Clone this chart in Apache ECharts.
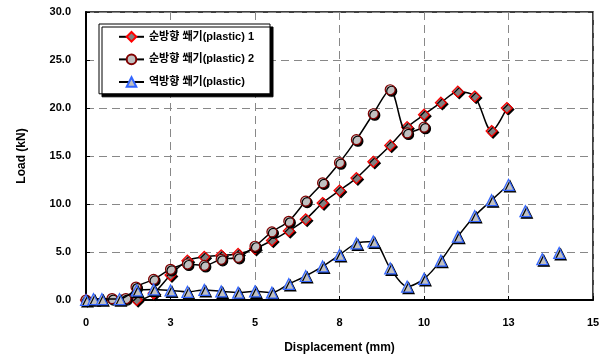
<!DOCTYPE html>
<html><head><meta charset="utf-8">
<script src="https://cdn.jsdelivr.net/npm/echarts@6/dist/echarts.min.js"></script>
<style>html,body{margin:0;padding:0;background:#fff}#c{width:606px;height:361px}</style>
</head><body><div id="c"></div>
<script>
const seriesNames = ['순방향 쐐기(plastic) 1', '순방향 쐐기(plastic) 2', '역방향 쐐기(plastic)'];
const forward1 = [[0,0],[1.5,0],[2.0,0.7],[2.5,2.6],[3.0,4.1],[3.5,4.5],[4.0,4.65],[4.5,4.8],[5.0,5.35],[5.5,6.2],[6.0,7.2],[6.5,8.4],[7.0,10.1],[7.5,11.4],[8.0,12.7],[8.5,14.4],[9.0,16.1],[9.5,18.0],[10.0,19.3],[10.5,20.55],[11.0,21.7],[11.5,21.2],[12.0,17.6],[12.45,20.0]];
const forward2 = [[0,0],[0.77,0.15],[1.18,0.15],[1.48,1.35],[2.0,2.15],[2.5,3.2],[3.0,3.75],[3.5,3.6],[4.0,4.24],[4.5,4.45],[5.0,5.6],[5.5,7.1],[6.0,8.2],[6.5,10.3],[7.0,12.2],[7.5,14.3],[8.0,16.7],[8.5,19.4],[9.0,21.9],[9.5,17.4],[10.0,18.0]];
const reverse = [[0,0],[0.22,0.1],[0.47,0.1],[0.99,0.1],[1.5,1.0],[2.0,1.1],[2.5,1.0],[3.0,0.85],[3.5,1.05],[4.0,0.9],[4.5,0.77],[5.0,0.9],[5.5,0.77],[6.0,1.67],[6.5,2.5],[7.0,3.5],[7.5,4.7],[8.0,5.9],[8.5,6.1],[9.0,3.3],[9.5,1.4],[10.0,2.2],[10.5,4.1],[11.0,6.6],[11.5,8.75],[12.0,10.4],[12.5,12.0]];
const reverseTail = [[13.0,9.25],[13.5,4.25],[14.0,4.9]];

const font = 'Arial, "Liberation Sans", "Noto Sans CJK KR", sans-serif';
const shadow = {shadowColor:'#000', shadowBlur:0, shadowOffsetX:1.5, shadowOffsetY:1.5};
const chart = echarts.init(document.getElementById('c'), null, {renderer:'canvas'});
const triStyle = Object.assign({color:'#c0c0c0', borderColor:'#3366ff', borderWidth:1.2}, shadow);
chart.setOption({
  animation:false,
  grid:{left:86, right:13, top:12, bottom:61, show:true, borderColor:'#000', borderWidth:1.5, backgroundColor:'transparent'},
  legend:{
    orient:'vertical', left:99, top:24, width:188,
    data:seriesNames,
    itemWidth:25, itemHeight:12, itemGap:11,
    padding:[7, 16, 6, 19],
    backgroundColor:'#fff', borderColor:'#000', borderWidth:1,
    shadowColor:'#000', shadowBlur:0, shadowOffsetX:3, shadowOffsetY:3,
    textStyle:{fontFamily:font, fontWeight:'bold', fontSize:11, color:'#000'}
  },
  xAxis:{
    type:'value', min:0, max:15, interval:2.5,
    name:'Displacement (mm)', nameLocation:'middle', nameGap:42,
    nameTextStyle:{fontFamily:font, fontWeight:'bold', fontSize:12, color:'#000'},
    axisLine:{lineStyle:{color:'#000', width:2}},
    axisTick:{inside:true, length:4, lineStyle:{color:'#000'}},
    axisLabel:{margin:17, fontFamily:font, fontWeight:'bold', fontSize:11, color:'#000', formatter:v=>String(Math.round(v))},
    splitLine:{lineStyle:{color:'#888', type:[8,5], width:1}}
  },
  yAxis:{
    type:'value', min:0, max:30, interval:5,
    name:'Load (kN)', nameLocation:'middle', nameGap:58,
    nameTextStyle:{fontFamily:font, fontWeight:'bold', fontSize:12, color:'#000'},
    axisLine:{show:true, lineStyle:{color:'#000', width:2}},
    axisTick:{show:true, inside:true, length:4, lineStyle:{color:'#000'}},
    axisLabel:{margin:15, fontFamily:font, fontWeight:'bold', fontSize:11, color:'#000', formatter:v=>v.toFixed(1)},
    splitLine:{lineStyle:{color:'#888', type:[8,5], width:1}}
  },
  series:[
    {name:seriesNames[0], type:'line', data:forward1, smooth:0.3, symbol:'diamond', symbolSize:11,
     lineStyle:{color:'#000', width:1.5}, itemStyle:Object.assign({color:'#808080', borderColor:'#ff0000', borderWidth:1.2}, shadow), z:3},
    {name:seriesNames[1], type:'line', data:forward2, smooth:0.3, symbol:'circle', symbolSize:10,
     lineStyle:{color:'#000', width:1.5}, itemStyle:Object.assign({color:'#c0c0c0', borderColor:'#800000', borderWidth:1.2}, shadow), z:4},
    {name:seriesNames[2], type:'line', data:reverse, smooth:0.3, symbol:'triangle', symbolSize:11,
     lineStyle:{color:'#000', width:1.5}, itemStyle:triStyle, z:5},
    {name:'tail', type:'line', data:reverseTail, symbol:'triangle', symbolSize:11,
     lineStyle:{opacity:0}, itemStyle:triStyle, z:5}
  ]
});
</script></body></html>
